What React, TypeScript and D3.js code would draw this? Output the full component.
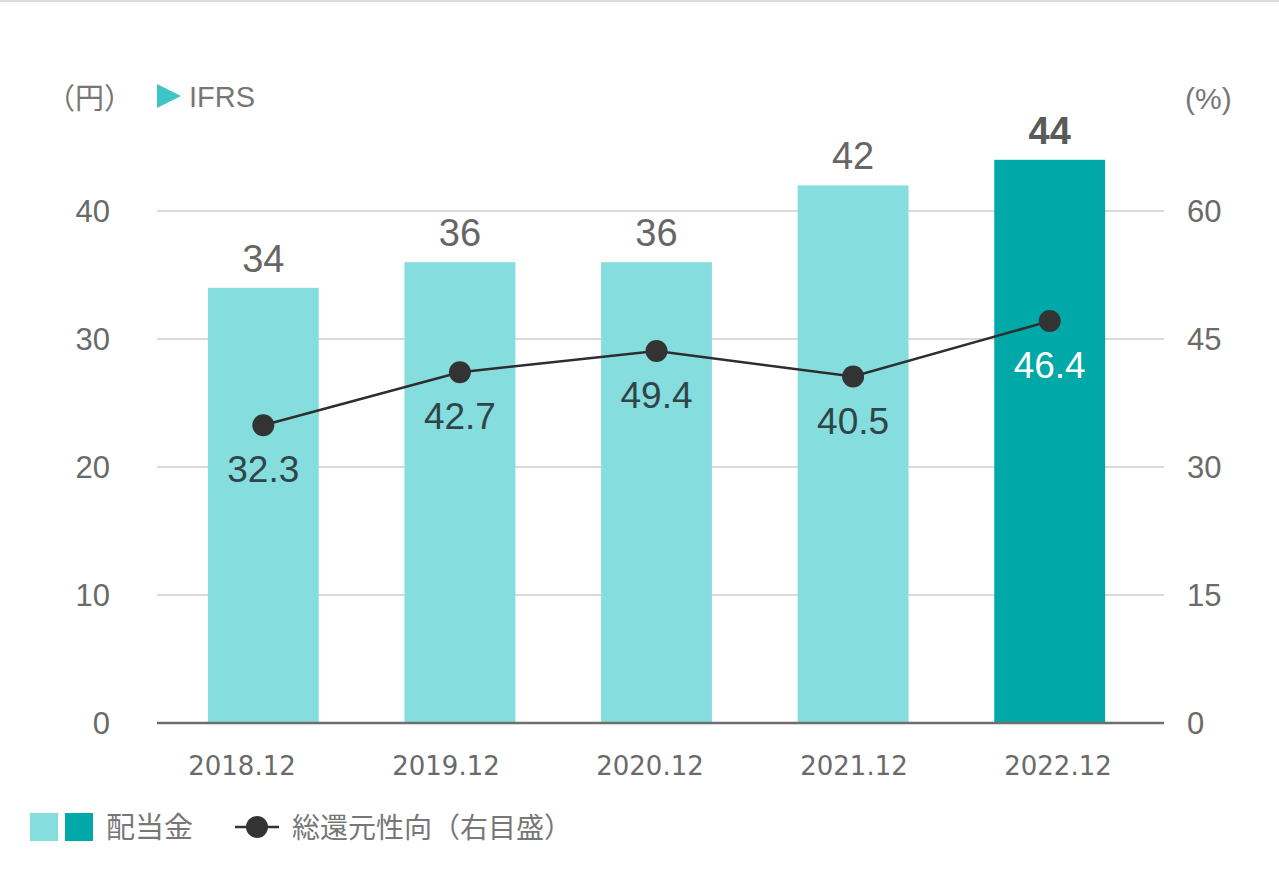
import React from "react";
import * as d3 from "d3";

const categories = ["2018.12", "2019.12", "2020.12", "2021.12", "2022.12"];
const dividends = [34, 36, 36, 42, 44];
const payoutLabels = ["32.3", "42.7", "49.4", "40.5", "46.4"];
// positions of the markers as plotted on the right axis
const payoutPlotted = [34.9, 41.1, 43.6, 40.6, 47.1];
const leftTicks = [0, 10, 20, 30, 40];
const rightTicks = [0, 15, 30, 45, 60];

const W = 1279;
const H = 873;
const NUM_FONT = "'Liberation Sans', Arial, Helvetica, sans-serif";
const JP_FONT = "'Noto Sans CJK JP', 'Noto Sans', sans-serif";
const TICK_FONT = "'DejaVu Sans', Verdana, sans-serif";

export default function App() {
  const x = d3
    .scaleBand<string>()
    .domain(categories)
    .range([165, 1148])
    .paddingInner(0.436)
    .paddingOuter(0.218);
  // category labels are laid out on their own, slightly wider spacing
  const xLabel = d3.scalePoint<string>().domain(categories).range([242, 1058]);
  const yL = d3.scaleLinear().domain([0, 40]).range([723, 211]);
  const yR = d3.scaleLinear().domain([0, 60]).range([723, 211]);

  const line = d3
    .line<number>()
    .x((_, i) => (x(categories[i]) as number) + x.bandwidth() / 2)
    .y((d) => yR(d));

  const gridX0 = 157;
  const gridX1 = 1164;

  return (
    <svg
      width={W}
      height={H}
      style={{ position: "absolute", left: 0, top: 0, background: "#fff" }}
    >
      <rect x={0} y={0} width={W} height={H} fill="#fff" />
      <line x1={0} x2={W} y1={1} y2={1} stroke="#dcdcdc" strokeWidth={2} />

      {/* gridlines */}
      {leftTicks.map((t) =>
        t === 0 ? null : (
          <line
            key={t}
            x1={gridX0}
            x2={gridX1}
            y1={yL(t)}
            y2={yL(t)}
            stroke="#d9d9d9"
            strokeWidth={2}
          />
        )
      )}

      {/* bars */}
      {dividends.map((v, i) => (
        <rect
          key={categories[i]}
          x={x(categories[i])}
          y={yL(v)}
          width={x.bandwidth()}
          height={yL(0) - yL(v)}
          fill={i === dividends.length - 1 ? "#00A8A7" : "#86DDDE"}
        />
      ))}

      {/* baseline */}
      <line x1={gridX0} x2={gridX1} y1={yL(0)} y2={yL(0)} stroke="#6e6e6e" strokeWidth={2.5} />

      {/* bar value labels */}
      {dividends.map((v, i) => {
        const last = i === dividends.length - 1;
        return (
          <text
            key={"bl" + i}
            x={(x(categories[i]) as number) + x.bandwidth() / 2}
            y={yL(v) - 16}
            textAnchor="middle"
            fontFamily={NUM_FONT}
            fontSize={38}
            fontWeight={last ? 700 : 400}
            fill={last ? "#5a5a5a" : "#666"}
          >
            {v}
          </text>
        );
      })}

      {/* left ticks */}
      {leftTicks.map((t) => (
        <text
          key={"l" + t}
          x={110}
          y={yL(t) + 11}
          textAnchor="end"
          fontFamily={NUM_FONT}
          fontSize={31}
          fill="#6a6a6a"
        >
          {t}
        </text>
      ))}
      {/* right ticks */}
      {rightTicks.map((t) => (
        <text
          key={"r" + t}
          x={1187}
          y={yR(t) + 11}
          textAnchor="start"
          fontFamily={NUM_FONT}
          fontSize={31}
          fill="#6a6a6a"
        >
          {t}
        </text>
      ))}

      {/* x labels */}
      {categories.map((c) => (
        <text
          key={"x" + c}
          x={xLabel(c) as number}
          y={775}
          textAnchor="middle"
          fontFamily={TICK_FONT}
          fontSize={26}
          fill="#6a6a6a"
        >
          {c}
        </text>
      ))}

      {/* line */}
      <path d={line(payoutPlotted) || ""} fill="none" stroke="#2e2e2e" strokeWidth={2.5} />
      {payoutPlotted.map((v, i) => (
        <circle
          key={"c" + i}
          cx={(x(categories[i]) as number) + x.bandwidth() / 2}
          cy={yR(v)}
          r={11}
          fill="#333"
        />
      ))}
      {payoutPlotted.map((v, i) => {
        const last = i === payoutPlotted.length - 1;
        return (
          <text
            key={"pl" + i}
            x={(x(categories[i]) as number) + x.bandwidth() / 2}
            y={yR(v) + 57}
            textAnchor="middle"
            fontFamily={NUM_FONT}
            fontSize={37}
            fill={last ? "#ffffff" : "#2f4548"}
          >
            {payoutLabels[i]}
          </text>
        );
      })}

      {/* header */}
      <text x={46} y={109} fontFamily={JP_FONT} fontSize={29} fill="#777">
        （円）
      </text>
      <path d="M157,84 L181,96 L157,108 Z" fill="#3EC6C7" />
      <text x={189} y={107} fontFamily={NUM_FONT} fontSize={29} fill="#777">
        IFRS
      </text>
      <text x={1185} y={109} fontFamily={NUM_FONT} fontSize={30} fill="#777">
        (%)
      </text>

      {/* legend */}
      <rect x={30} y={813} width={28} height={28} fill="#86DDDE" />
      <rect x={65} y={813} width={28} height={28} fill="#00A8A7" />
      <text x={106} y={838} fontFamily={JP_FONT} fontSize={29} fill="#777">
        配当金
      </text>
      <line x1={235} x2={279} y1={827} y2={827} stroke="#333" strokeWidth={2.5} />
      <circle cx={257} cy={827} r={11} fill="#333" />
      <text x={292} y={838} fontFamily={JP_FONT} fontSize={28} fill="#777">
        総還元性向（右目盛）
      </text>
    </svg>
  );
}
